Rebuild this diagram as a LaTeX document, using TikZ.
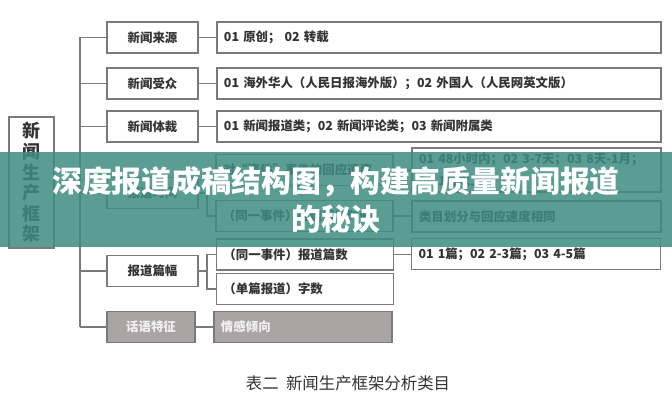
\documentclass[tikz,border=0pt]{standalone}
\usepackage{fontspec}
\setmainfont{Noto Sans CJK SC}
\definecolor{frame}{HTML}{7a7a7a}
\definecolor{ink}{HTML}{333333}
\definecolor{talk}{HTML}{a9a5a5}
\definecolor{band}{HTML}{3e8c80}

\tikzset{
  cat/.style={draw=frame, line width=1.1pt, fill=white, text=ink,
    font=\fontsize{10.6}{12}\selectfont\bfseries,
    minimum width=2.73cm, minimum height=0.93cm, inner sep=0pt},
  leaf/.style={cat, text width=#1, align=left, inner xsep=0.21cm},
  talkbox/.style={cat, fill=talk, text=white!85!talk},
  link/.style={draw=frame, line width=0.9pt},
}

\begin{document}
\begin{tikzpicture}[x=0.03cm, y=-0.03cm]
    \useasboundingbox (0,0) rectangle (672,400);

    % left frame
    \node at (31.5, 182.5) (frm) [draw=frame, line width=1.1pt, text=ink, minimum width=1.35cm, minimum height=3.93cm, align=center, font=\fontsize{15.3}{17.6}\selectfont\bfseries] {新\\闻\\生\\产\\框\\架};

    % categories
    \node at (152.5, 37.5) (src) [cat] {新闻来源};
    \node at (152.5, 83.5) (aud) [cat] {新闻受众};
    \node at (152.5, 126.5) (gen) [cat] {新闻体裁};
    \node at (152.5, 193) (time) [cat] {报道时间};
    \node at (152.5, 271) (len) [cat] {报道篇幅};
    \node at (151, 327) (talk) [talkbox, minimum width=2.64cm] {话语特征};

    % values
    \node at (439, 37.5) (srcv) [leaf=12.9cm] {01 原创； 02 转载};
    \node at (439, 83.5) (audv) [leaf=12.9cm] {01 海外华人（人民日报海外版）；02 外国人（人民网英文版）};
    \node at (439, 126.5) (genv) [leaf=12.9cm] {01 新闻报道类；02 新闻评论类；03 新闻附属类};

    \node at (304.5, 170) (speed) [leaf=4.89cm] {对“事件”事件的回应速度};
    \node at (304.5, 216) (same) [leaf=4.89cm] {（同一事件）报道持续时间};
    \node at (536.5, 170) (speedv) [leaf=7.05cm, minimum height=1.32cm, font=\fontsize{10.6}{18.7}\selectfont\bfseries] {01 48小时内；02 3-7天；03 8天-1月；\\04 1月以上};
    \node at (536.5, 216.5) (samev) [leaf=7.05cm] {类目划分与回应速度相同};

    \node at (305, 254.5) (cnt) [leaf=4.89cm] {（同一事件）报道篇数};
    \node at (305, 289) (words) [leaf=4.89cm] {（单篇报道）字数};
    \node at (536, 254) (cntv) [leaf=7.05cm] {01 1篇；02 2-3篇；03 4-5篇};

    \node at (303, 327) (mood) [talkbox, leaf=4.92cm, fill=talk, text=white!85!talk] {情感倾向};

    % trunk and branches
    \coordinate (ttop) at (80, 37.5);
    \coordinate (tbot) at (80, 327);
    \draw[link] (ttop) -- (tbot);
    \foreach \n in {src, aud, gen, time, len, talk}
        \draw[link] (ttop |- \n.west) -- (\n.west);

    \draw[link] (src.east) -- (srcv.west);
    \draw[link] (aud.east) -- (audv.west);
    \draw[link] (gen.east) -- (genv.west);
    \draw[link] (talk.east) -- (mood.west);

    % forks
    \coordinate (tfork) at (207, 193);
    \draw[link] (time.east) -- (tfork);
    \draw[link] (speed.west) -| (tfork) |- (same.west);
    \coordinate (lfork) at (207, 271);
    \draw[link] (len.east) -- (lfork);
    \draw[link] (cnt.west) -| (lfork) |- (words.west);

    \draw[link] (speed.east) -- (speed.east -| speedv.west);
    \draw[link] (same.east) -- (same.east -| samev.west);
    \draw[link] (cnt.east) -- (cnt.east -| cntv.west);

    % caption
    \node at (348, 383) (cap) [text=ink, font=\fontsize{14}{16}\selectfont] {表二\ \ 新闻生产框架分析类目};

    % title band
    \fill[band, opacity=0.85] (0, 152) rectangle (672, 247);
    \node at (336, 200) (title) [text=white, align=center, font=\fontsize{25.5}{32.3}\selectfont\bfseries] {深度报道成稿结构图，构建高质量新闻报道\\的秘诀};
\end{tikzpicture}
\end{document}
